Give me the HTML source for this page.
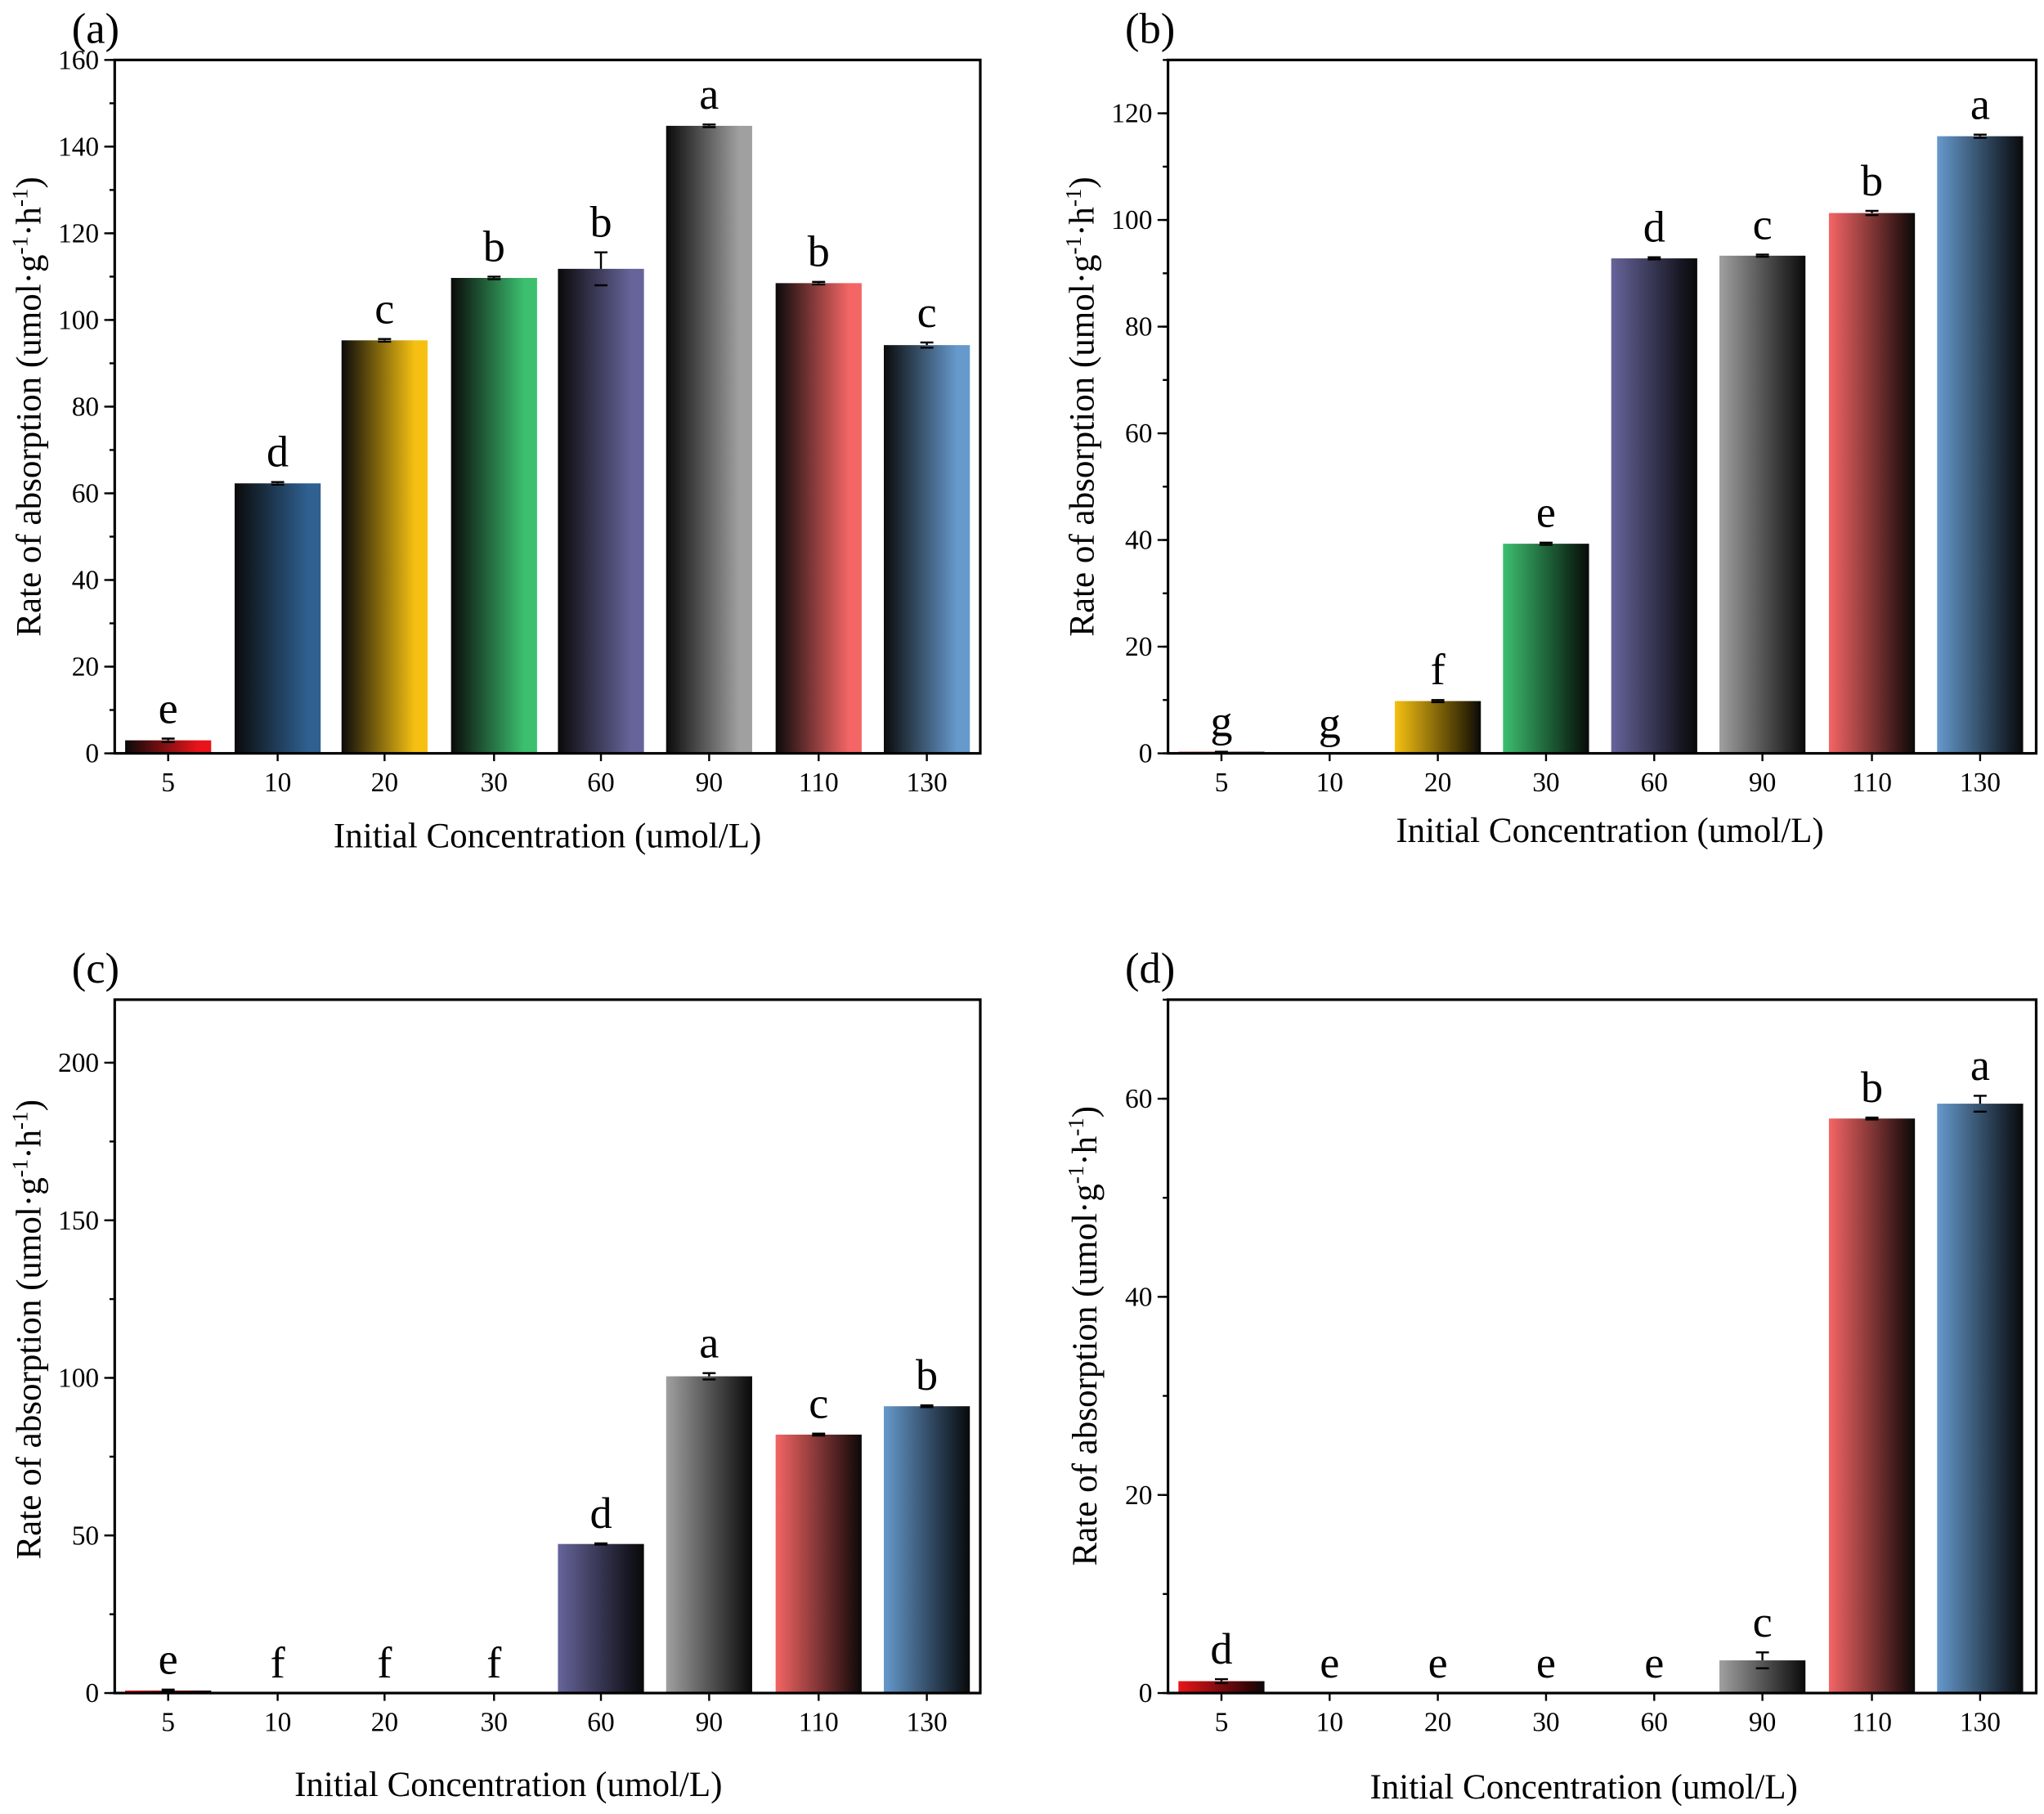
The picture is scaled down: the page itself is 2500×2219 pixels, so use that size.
<!DOCTYPE html>
<html><head><meta charset="utf-8"><style>
html,body{margin:0;padding:0;background:#fff}
svg{display:block}
svg text{font-family:"Liberation Serif","DejaVu Serif",serif;fill:#000}
</style></head><body>
<svg id="fig" width="2500" height="2219" viewBox="0 0 1568 1391.8" preserveAspectRatio="none" font-family="Liberation Serif, serif" xmlns="http://www.w3.org/2000/svg">
<defs id="defs"></defs>
</svg>
<script>
const categories = ["5","10","20","30","60","90","110","130"];
const valuesA = [3, 62.3, 95.3, 109.7, 111.8, 144.8, 108.5, 94.2];
const errorsA = [0.4, 0.3, 0.3, 0.3, 3.8, 0.3, 0.3, 0.6];
const lettersA = ["e","d","c","b","b","a","b","c"];
const valuesB = [0.3, 0, 9.8, 39.3, 92.8, 93.3, 101.3, 115.7];
const errorsB = [0, 0, 0.2, 0.2, 0.2, 0.2, 0.4, 0.3];
const lettersB = ["g","g","f","e","d","c","b","a"];
const valuesC = [0.8, 0, 0, 0, 47.3, 100.5, 82, 91];
const errorsC = [0.3, 0, 0, 0, 0.2, 1.0, 0.3, 0.3];
const lettersC = ["e","f","f","f","d","a","c","b"];
const valuesD = [1.2, 0, 0, 0, 0, 3.3, 58, 59.5];
const errorsD = [0.2, 0, 0, 0, 0, 0.8, 0.1, 0.8];
const lettersD = ["d","e","e","e","e","c","b","a"];
const ticksA = [0,20,40,60,80,100,120,140,160];
const ticksB = [0,20,40,60,80,100,120];
const ticksC = [0,50,100,150,200];
const ticksD = [0,20,40,60];
const colors = ["#e8141a","#2f6090","#f5c012","#3cbf6f","#66649a","#a0a0a0","#f46565","#6699cc"];
const NS="http://www.w3.org/2000/svg";
const FONT="Liberation Serif, serif";
const svg=document.getElementById('fig');
const defs=document.getElementById('defs');
function mk(tag,attrs,parent){const e=document.createElementNS(NS,tag);for(const k in attrs)e.setAttribute(k,attrs[k]);if(tag==='text')e.setAttribute('font-family',FONT);(parent||svg).appendChild(e);return e;}
function mix(c){const n=parseInt(c.slice(1),16);const r=(n>>16)&255,g=(n>>8)&255,b=n&255;return `rgb(${r*0.2|0},${g*0.2|0},${b*0.2|0})`;}
colors.forEach((c,i)=>{
  ['dl','ld'].forEach(dir=>{
    const g=mk('linearGradient',{id:'g'+dir+i,x1:'0',x2:'1',y1:'0',y2:'0'},defs);
    mk('stop',{offset:'0','stop-color':dir==='dl'?'#0a0a0a':c},g);
    mk('stop',{offset:'0.85','stop-color':dir==='dl'?c:mix(c)},g);
    mk('stop',{offset:'1','stop-color':dir==='dl'?c:'#0a0a0a'},g);
  });
});
const panels=[
 {lab:"(a)",labX:55,labY:33,L:88,R:752,T:46,B:578,max:160,ticks:ticksA,minor:10,vals:valuesA,errs:errorsA,lets:lettersA,dir:'dl',cx:[129,213,295,379,461,544,628,711],yt:[22,312],xt:[420,650],tickY:607},
 {lab:"(b)",labX:863,labY:33,L:896,R:1562,T:46,B:578,max:130,ticks:ticksB,minor:10,vals:valuesB,errs:errorsB,lets:lettersB,dir:'ld',cx:[937,1020,1103,1186,1269,1352,1436,1519],yt:[830,312],xt:[1235,646],tickY:607},
 {lab:"(c)",labX:55,labY:754,L:88,R:752,T:767,B:1299,max:220,ticks:ticksC,minor:25,vals:valuesC,errs:errorsC,lets:lettersC,dir:'ld',cx:[129,213,295,379,461,544,628,711],yt:[22,1020],xt:[390,1378],tickY:1328},
 {lab:"(d)",labX:863,labY:754,L:896,R:1562,T:767,B:1299,max:70,ticks:ticksD,minor:10,vals:valuesD,errs:errorsD,lets:lettersD,dir:'ld',cx:[937,1020,1103,1186,1269,1352,1436,1519],yt:[832,1025],xt:[1215,1380],tickY:1328}
];
panels.forEach((p,pi)=>{
  const g=mk('g',{});
  
  
  const y=v=>p.B-(v/p.max)*(p.B-p.T);
  const bw=66;
  p.vals.forEach((v,i)=>{
    const top=y(v);
    const r=mk('rect',{x:p.cx[i]-bw/2,y:top,width:bw,height:p.B-top,fill:`url(#g${p.dir}${i})`},g);
    
    
    const e=p.errs[i];
    if(v>0){
      const eb=mk('path',{d:`M${p.cx[i]-5},${y(v+e)}H${p.cx[i]+5}M${p.cx[i]},${y(v+e)}V${top}M${p.cx[i]-5},${y(v-e)}H${p.cx[i]+5}`,stroke:'#000','stroke-width':1.5,fill:'none'},g);
      
      
    }
    const t=mk('text',{x:p.cx[i],y:y(v+e)-12,'text-anchor':'middle','font-size':34},g);
    t.textContent=p.lets[i];
    
    
    const xl=mk('text',{x:p.cx[i],y:p.tickY,'text-anchor':'middle','font-size':21},g);
    xl.textContent=categories[i];
    
    
    mk('line',{x1:p.cx[i],x2:p.cx[i],y1:p.B,y2:p.B+6,stroke:'#000','stroke-width':1.5},g);
  });
  for(let v=0;v<=p.max;v+=p.minor){mk('line',{x1:p.L-4,x2:p.L,y1:y(v),y2:y(v),stroke:'#000','stroke-width':1.5},g);}
  p.ticks.forEach(v=>{
    mk('line',{x1:p.L-8,x2:p.L,y1:y(v),y2:y(v),stroke:'#000','stroke-width':1.5},g);
    const t=mk('text',{x:p.L-12,y:y(v)+7,'text-anchor':'end','font-size':21},g);
    t.textContent=v;
    
    
  });
  const fr=mk('rect',{x:p.L,y:p.T,width:p.R-p.L,height:p.B-p.T,fill:'none',stroke:'#000','stroke-width':2},g);
  
  
  const lab=mk('text',{x:p.labX,y:p.labY,'font-size':33},g);
  lab.textContent=p.lab;
  
  
  const xt=mk('text',{x:p.xt[0],y:p.xt[1],'text-anchor':'middle','font-size':27},g);
  xt.textContent='Initial Concentration (umol/L)';
  
  
  const yt=mk('text',{x:0,y:0,'text-anchor':'middle','font-size':27,transform:`translate(${p.yt[0]+9},${p.yt[1]}) rotate(-90)`},g);
  yt.innerHTML='Rate of absorption (umol·g<tspan dy="-10" font-size="17">-1</tspan><tspan dy="10">·h</tspan><tspan dy="-10" font-size="17">-1</tspan><tspan dy="10">)</tspan>';
  
  
});
</script>
</body></html>
